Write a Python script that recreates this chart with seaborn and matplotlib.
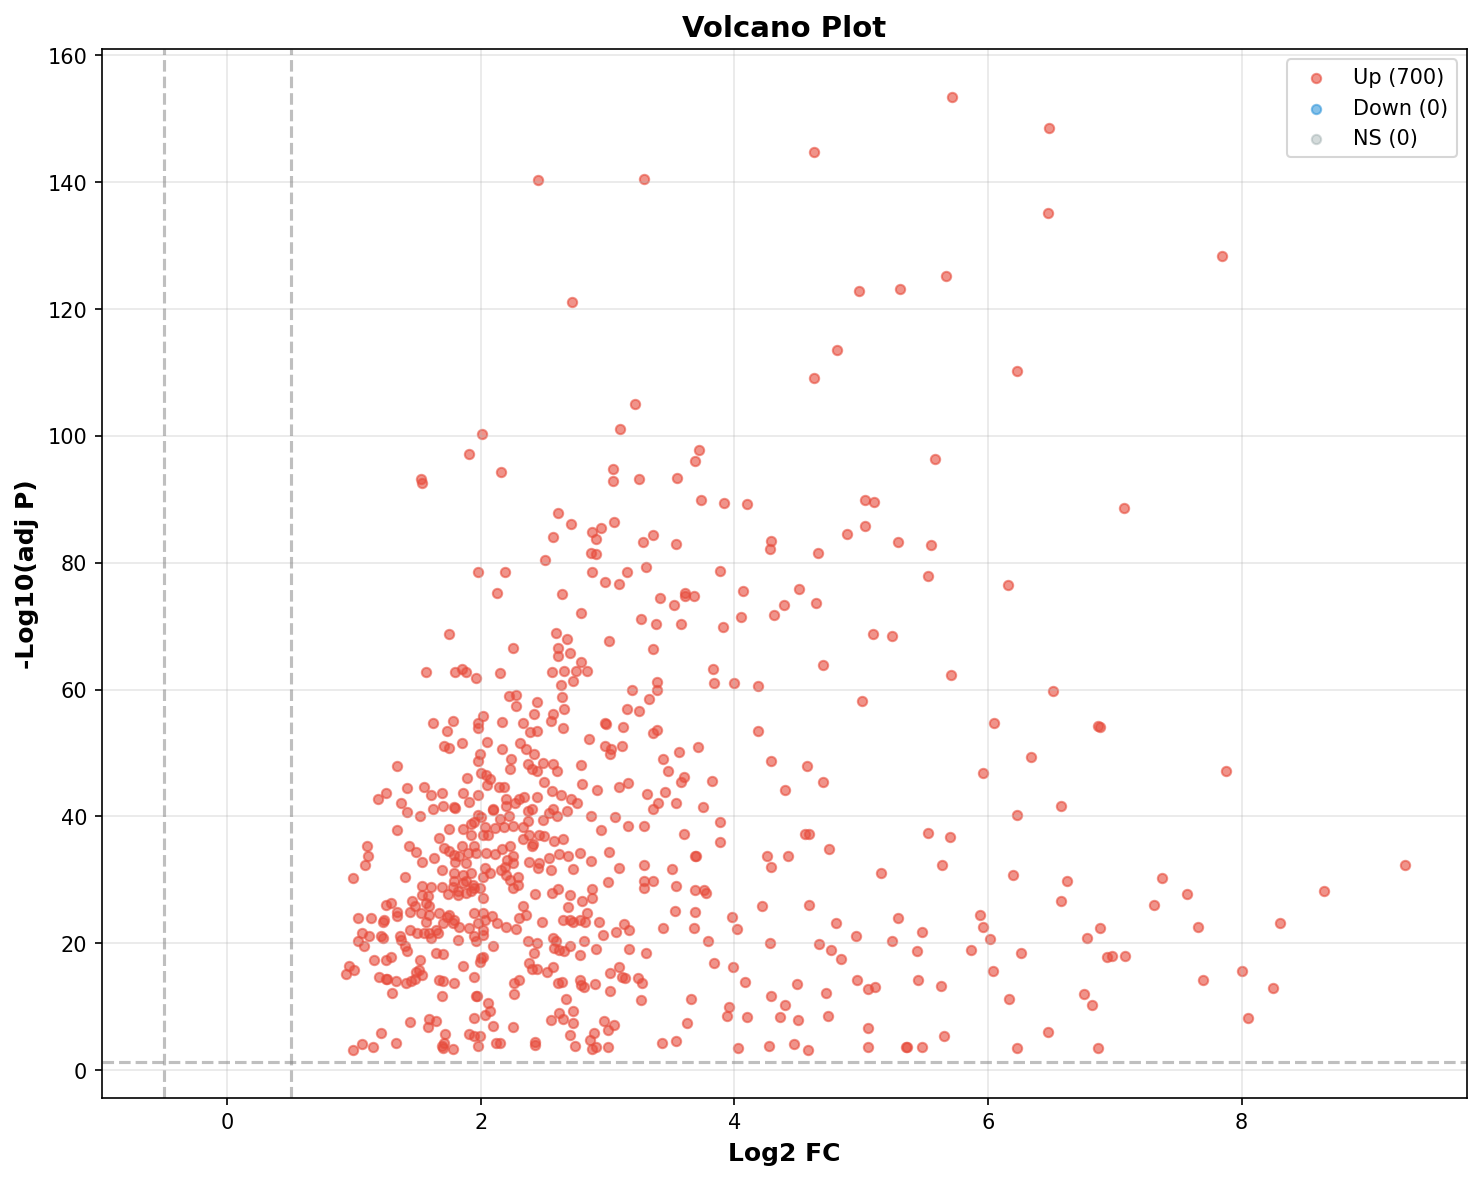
import pandas as pd
import seaborn as sns
import matplotlib.pyplot as plt

# thresholds used for the dashed guide lines
fc_cut = 0.5
padj_line = 1.3

legend_labels = ['Up (700)', 'Down (0)', 'NS (0)']
colors = {'Up': '#e74c3c', 'Down': '#3498db', 'NS': '#95a5a6'}

# (log2 FC, -log10 adj P), by band of -log10 P
up_above_60 = [
    (5.72, 153.5), (6.48, 148.5), (4.63, 144.7), (2.45, 140.3), (3.29, 140.5), (6.47, 135.2),
    (7.85, 128.3), (5.67, 125.2), (4.98, 122.8), (5.31, 123.1), (2.72, 121.1), (4.81, 113.5),
    (6.23, 110.3), (4.63, 109.2), (3.22, 105.1), (3.10, 101.1), (2.01, 100.3), (3.72, 97.8),
    (1.91, 97.1), (3.69, 96.1), (5.58, 96.4), (1.53, 93.2), (1.54, 92.5), (2.16, 94.3),
    (3.04, 94.8), (3.04, 92.9), (3.25, 93.2), (3.55, 93.3), (3.74, 89.9), (3.92, 89.5),
    (4.10, 89.3), (5.03, 89.9), (5.10, 89.6), (7.07, 88.7), (2.61, 87.9), (2.71, 86.1),
    (3.05, 86.4), (5.03, 85.8), (2.95, 85.5), (2.88, 84.9), (2.57, 84.0), (2.91, 83.8),
    (3.36, 84.4), (3.28, 83.2), (3.54, 82.9), (4.29, 83.4), (4.28, 82.1), (4.89, 84.5),
    (5.29, 83.3), (5.55, 82.8), (4.66, 81.5), (2.87, 81.6), (2.91, 81.4), (2.51, 80.5),
    (1.98, 78.5), (2.19, 78.6), (2.88, 78.5), (3.15, 78.5), (3.30, 79.3), (3.89, 78.7),
    (5.53, 77.9), (2.98, 76.9), (3.09, 76.7), (6.16, 76.5), (2.13, 75.3), (2.64, 75.0),
    (3.61, 75.2), (3.61, 74.7), (3.68, 74.7), (3.41, 74.4), (4.07, 75.5), (4.51, 75.9),
    (4.64, 73.7), (4.39, 73.3), (3.52, 73.3), (2.79, 72.1), (4.31, 71.8), (4.05, 71.4),
    (3.26, 71.2), (3.38, 70.3), (3.58, 70.3), (3.91, 69.8), (1.75, 68.8), (2.59, 68.9),
    (5.09, 68.8), (5.24, 68.5), (2.68, 67.9), (3.01, 67.6), (2.61, 66.6), (2.25, 66.5),
    (3.36, 66.4), (2.61, 65.3), (2.70, 65.7), (2.79, 64.4), (4.70, 63.9), (3.83, 63.2),
    (1.85, 63.2), (1.80, 62.7), (1.88, 62.7), (1.57, 62.7), (2.66, 63.0), (2.56, 62.7),
    (2.84, 63.0), (2.75, 62.9), (2.15, 62.6), (1.96, 61.9), (2.73, 61.3), (3.39, 61.2),
    (3.84, 61.1), (4.00, 61.1), (5.71, 62.3), (2.63, 60.8), (4.19, 60.6),
]

up_40_60 = [
    (2.64, 58.9), (2.22, 59.0), (2.28, 59.2), (3.39, 60.0), (3.19, 60.0), (3.33, 58.5),
    (2.28, 57.4), (2.44, 58.0), (2.66, 56.9), (3.15, 57.0), (3.25, 56.6), (5.01, 58.2),
    (6.51, 59.8), (1.62, 54.8), (1.78, 55.1), (1.73, 53.5), (2.02, 55.8), (1.98, 54.7),
    (1.98, 54.0), (2.17, 54.9), (2.33, 54.8), (2.42, 56.2), (2.57, 56.2), (2.55, 55.1),
    (2.65, 54.0), (2.44, 53.5), (2.39, 53.3), (1.85, 51.6), (1.71, 51.1), (1.75, 50.8),
    (2.05, 51.8), (2.17, 50.6), (2.31, 51.6), (2.36, 50.6), (2.42, 49.8), (2.49, 48.5),
    (2.57, 48.2), (2.60, 47.1), (2.37, 48.2), (2.40, 47.4), (2.44, 47.1), (1.99, 49.8),
    (1.98, 48.7), (2.24, 49.1), (2.23, 47.5), (1.34, 48.0), (2.00, 46.9), (2.04, 46.6),
    (2.07, 45.9), (2.05, 45.0), (1.89, 46.1), (2.50, 45.5), (2.14, 44.6), (2.18, 44.7),
    (1.25, 43.7), (1.19, 42.8), (1.42, 44.5), (1.55, 44.7), (1.61, 43.4), (1.69, 43.7),
    (1.86, 43.7), (1.91, 42.3), (1.98, 43.3), (1.37, 42.1), (1.42, 40.7), (1.52, 40.1),
    (1.62, 41.1), (1.70, 41.7), (1.79, 41.5), (1.80, 41.4), (2.20, 42.7), (2.27, 42.1),
    (2.30, 42.7), (2.34, 43.1), (2.44, 43.1), (2.56, 44.0), (2.63, 43.4), (2.71, 42.8),
    (2.76, 42.1), (2.20, 41.7), (2.10, 41.1), (2.10, 41.0), (2.40, 41.2), (2.37, 40.8),
    (2.57, 41.2), (2.54, 40.6), (2.60, 40.0), (2.68, 40.9), (1.98, 40.3), (2.00, 39.9),
    (2.22, 40.1), (2.98, 54.8), (2.99, 54.6), (3.12, 54.1), (2.85, 52.2), (3.36, 53.2),
    (3.39, 53.6), (2.98, 51.1), (3.03, 50.7), (3.02, 49.8), (3.11, 51.1), (3.71, 51.0),
    (3.56, 50.2), (3.44, 49.1), (2.79, 48.1), (3.48, 47.1), (3.60, 46.2), (3.58, 45.4),
    (3.82, 45.6), (2.80, 45.1), (2.92, 44.2), (3.09, 44.7), (3.16, 45.2), (3.31, 43.6),
    (3.45, 43.9), (3.40, 42.1), (3.36, 41.1), (3.54, 42.1), (3.75, 41.5), (2.87, 40.1),
    (3.06, 39.9), (4.19, 53.5), (4.29, 48.7), (4.57, 48.0), (4.40, 44.2), (4.70, 45.5),
    (6.05, 54.7), (6.87, 54.3), (6.88, 54.1), (6.34, 49.4), (5.96, 46.9), (7.88, 47.2),
    (6.58, 41.7), (6.23, 40.2), (3.89, 39.1),
]

up_20_40 = [
    (2.49, 39.5), (2.15, 39.6), (2.18, 38.3), (2.25, 38.5), (2.33, 38.3), (2.37, 39.2),
    (1.75, 38.0), (1.86, 38.0), (1.92, 38.8), (1.95, 39.1), (1.92, 37.1), (2.02, 37.0),
    (2.06, 37.0), (2.03, 38.3), (2.11, 38.2), (1.34, 37.8), (1.67, 36.6), (1.10, 35.4),
    (1.11, 33.8), (1.09, 32.4), (1.43, 35.3), (1.49, 34.4), (1.54, 32.8), (1.63, 33.5),
    (1.69, 31.6), (1.71, 35.0), (1.75, 34.5), (1.79, 33.9), (1.85, 35.4), (1.83, 33.7),
    (1.90, 34.3), (1.95, 35.3), (1.96, 34.2), (1.88, 32.7), (1.80, 32.8), (2.04, 34.2),
    (2.11, 34.1), (2.17, 34.8), (2.23, 35.3), (2.25, 33.7), (2.21, 33.2), (2.25, 32.7),
    (2.19, 32.1), (2.16, 31.6), (2.20, 30.8), (2.23, 30.0), (2.29, 30.5), (2.33, 36.4),
    (2.38, 37.1), (2.41, 35.7), (2.46, 37.0), (2.50, 36.9), (2.58, 36.2), (2.65, 36.4),
    (2.40, 35.3), (2.54, 33.4), (2.62, 34.0), (2.69, 33.7), (2.78, 34.3), (2.46, 32.7),
    (2.38, 32.8), (2.45, 31.9), (2.55, 31.5), (2.73, 31.7), (0.99, 30.3), (1.40, 30.4),
    (1.79, 31.1), (1.86, 30.8), (1.92, 31.1), (1.79, 29.8), (1.88, 29.8), (1.94, 29.2),
    (2.03, 31.9), (2.07, 31.1), (2.02, 30.5), (2.29, 29.2), (1.54, 29.1), (1.61, 28.9),
    (1.69, 28.9), (1.78, 28.9), (1.82, 28.2), (1.86, 29.5), (1.95, 28.7), (1.92, 28.3),
    (1.99, 28.7), (1.54, 27.6), (1.58, 27.4), (1.57, 26.3), (1.59, 25.9), (1.74, 27.8),
    (1.82, 27.6), (1.88, 27.9), (2.02, 27.1), (2.25, 28.7), (2.43, 27.8), (2.56, 27.9),
    (2.61, 28.5), (2.70, 27.6), (1.25, 26.1), (1.29, 26.3), (1.46, 26.6), (1.48, 25.8),
    (1.44, 25.0), (1.34, 25.0), (1.34, 24.3), (1.24, 23.7), (1.23, 23.4), (1.03, 24.0),
    (1.13, 24.0), (1.53, 24.8), (1.59, 24.5), (1.67, 24.8), (1.73, 24.1), (1.79, 23.7),
    (1.78, 23.2), (1.70, 23.2), (1.65, 22.1), (1.59, 21.6), (1.61, 20.8), (1.57, 23.4),
    (1.75, 24.5), (1.50, 21.6), (1.55, 21.6), (1.66, 21.6), (1.44, 22.1), (1.36, 21.1),
    (1.37, 20.5), (1.23, 20.8), (1.21, 21.1), (1.06, 21.6), (1.12, 21.2), (1.82, 20.5),
    (1.83, 22.6), (1.91, 22.4), (1.95, 24.8), (2.02, 24.8), (2.03, 23.7), (1.98, 23.2),
    (2.02, 22.1), (1.95, 21.1), (1.96, 20.3), (2.02, 21.3), (2.09, 24.3), (2.13, 23.2),
    (2.20, 22.6), (2.28, 22.2), (2.30, 24.0), (2.33, 25.9), (2.36, 24.5), (2.48, 23.4),
    (2.37, 20.4), (2.57, 20.8), (2.59, 20.4), (2.69, 25.7), (2.70, 23.7), (2.65, 23.7),
    (2.78, 23.7), (2.73, 23.4), (3.78, 27.9), (2.80, 26.7), (2.88, 27.2), (2.88, 28.6),
    (3.00, 29.7), (3.29, 29.8), (3.36, 29.8), (3.29, 28.7), (3.54, 29.0), (3.69, 28.4),
    (3.76, 28.4), (3.53, 25.1), (3.69, 24.9), (3.98, 24.2), (4.22, 25.8), (4.59, 26.1),
    (2.82, 23.4), (2.84, 24.8), (2.93, 23.4), (3.13, 23.1), (3.17, 22.1), (3.07, 21.8),
    (2.96, 21.3), (3.44, 22.4), (3.68, 22.4), (4.02, 22.2), (3.79, 20.4), (2.81, 20.4),
    (4.28, 20.0), (3.09, 31.9), (3.29, 32.4), (3.51, 31.7), (3.01, 34.4), (2.87, 33.0),
    (3.69, 33.8), (3.70, 33.7), (2.95, 37.9), (3.16, 38.5), (3.29, 38.5), (3.60, 37.2),
    (3.89, 36.0), (4.26, 33.7), (4.29, 32.1), (4.42, 33.8), (4.56, 37.2), (4.59, 37.2),
    (4.75, 34.8), (5.53, 37.4), (5.70, 36.8), (5.64, 32.3), (5.16, 31.0), (6.20, 30.8),
    (6.62, 29.8), (6.58, 26.7), (5.29, 24.0), (5.94, 24.5), (5.96, 22.5), (6.02, 20.6),
    (4.80, 23.2), (4.96, 21.1), (5.24, 20.4), (5.48, 21.8), (4.67, 19.9), (6.78, 20.9),
    (6.88, 22.4), (9.29, 32.3), (7.37, 30.3), (7.57, 27.8), (7.31, 26.0), (8.65, 28.2),
    (7.66, 22.5), (8.30, 23.2),
]

up_below_20 = [
    (2.70, 19.6), (2.62, 19.0), (2.58, 19.2), (2.66, 18.7), (2.78, 18.2), (2.44, 20.0),
    (2.42, 18.5), (2.10, 19.6), (1.65, 18.4), (1.70, 18.3), (1.52, 17.4), (0.96, 16.4),
    (0.94, 15.2), (1.00, 15.8), (1.16, 17.4), (1.25, 17.3), (1.29, 17.8), (1.86, 16.4),
    (2.00, 17.6), (2.02, 17.9), (1.99, 17.1), (2.38, 16.9), (2.40, 15.9), (2.44, 15.9),
    (2.57, 16.2), (2.52, 15.5), (1.20, 14.6), (1.25, 14.3), (1.26, 14.3), (1.33, 14.0),
    (1.41, 13.7), (1.45, 14.0), (1.49, 15.5), (1.51, 15.8), (1.54, 15.0), (1.48, 14.3),
    (1.67, 14.2), (1.70, 14.1), (1.79, 13.7), (1.95, 14.6), (1.30, 12.1), (1.69, 11.7),
    (1.96, 11.7), (1.97, 11.6), (2.26, 13.7), (2.30, 14.2), (2.26, 12.0), (2.61, 13.8),
    (2.64, 13.9), (2.67, 11.2), (2.06, 10.5), (2.07, 9.3), (2.03, 8.7), (1.95, 8.2),
    (1.44, 7.5), (1.59, 8.0), (1.65, 7.8), (1.58, 6.8), (2.10, 7.0), (2.25, 6.8),
    (2.55, 7.9), (2.62, 9.0), (2.65, 8.0), (1.21, 5.8), (1.91, 5.7), (1.95, 5.3),
    (1.99, 5.4), (1.72, 5.7), (1.71, 4.3), (1.69, 3.8), (1.70, 3.4), (1.78, 3.3),
    (1.33, 4.2), (0.99, 3.1), (1.06, 4.1), (1.15, 3.7), (1.98, 3.8), (2.12, 4.3),
    (2.15, 4.3), (2.43, 4.4), (2.43, 4.0), (1.03, 20.3), (1.08, 19.5), (1.40, 19.5),
    (1.42, 18.7), (2.91, 19.1), (3.17, 19.1), (3.30, 18.4), (3.84, 16.9), (3.99, 16.3),
    (3.09, 16.2), (3.02, 15.3), (3.11, 14.6), (3.14, 14.5), (3.24, 14.5), (3.27, 13.7),
    (2.78, 14.2), (2.79, 13.4), (2.81, 13.1), (2.90, 13.6), (3.02, 12.5), (3.26, 11.1),
    (3.66, 11.2), (4.08, 13.9), (4.29, 11.7), (4.49, 13.6), (4.40, 10.3), (2.73, 9.3),
    (2.73, 7.4), (2.70, 5.5), (2.97, 7.7), (3.05, 7.1), (3.00, 6.3), (2.89, 5.9),
    (2.86, 4.7), (2.88, 3.3), (2.91, 3.7), (2.74, 3.8), (3.00, 3.7), (3.63, 7.4),
    (3.43, 4.2), (3.54, 4.6), (3.96, 9.9), (3.94, 8.5), (4.10, 8.3), (4.03, 3.5),
    (4.27, 3.8), (4.36, 8.4), (4.50, 7.9), (4.47, 4.1), (4.58, 3.2), (4.76, 19.0),
    (4.84, 17.5), (5.44, 18.8), (5.87, 19.0), (6.26, 18.4), (6.94, 17.9), (6.98, 18.0),
    (7.08, 18.0), (6.04, 15.6), (4.72, 12.1), (4.97, 14.2), (5.05, 12.8), (5.11, 13.1),
    (5.45, 14.2), (5.63, 13.3), (6.17, 11.2), (6.76, 12.0), (6.82, 10.3), (4.74, 8.5),
    (5.05, 6.7), (5.65, 5.4), (6.47, 6.0), (5.05, 3.6), (5.35, 3.6), (5.36, 3.6),
    (5.48, 3.6), (6.23, 3.4), (6.87, 3.4), (8.00, 15.6), (7.70, 14.2), (8.25, 13.0),
    (8.05, 8.2),
]

df = pd.DataFrame(up_above_60 + up_40_60 + up_20_40 + up_below_20,
                  columns=['log2fc', 'neg_log10_padj'])

fig, ax = plt.subplots(figsize=(10, 8))

sns.scatterplot(data=df, x='log2fc', y='neg_log10_padj', color=colors['Up'],
                alpha=0.6, s=20, edgecolor=colors['Up'], linewidth=1.0,
                label=legend_labels[0], ax=ax)
# no down-regulated or non-significant genes, but keep them in the legend
ax.scatter([], [], color=colors['Down'], alpha=0.6, s=20, label=legend_labels[1])
ax.scatter([], [], color=colors['NS'], alpha=0.4, s=20, label=legend_labels[2])

ax.axvline(-fc_cut, color='gray', linestyle='--', alpha=0.5, linewidth=1.5)
ax.axvline(fc_cut, color='gray', linestyle='--', alpha=0.5, linewidth=1.5)
ylim = ax.get_ylim()
ax.axhline(padj_line, color='gray', linestyle='--', alpha=0.5, linewidth=1.5)
ax.set_ylim(ylim)

ax.set_xlabel('Log2 FC', fontsize=12, fontweight='bold')
ax.set_ylabel('-Log10(adj P)', fontsize=12, fontweight='bold')
ax.set_title('Volcano Plot', fontsize=14, fontweight='bold')
ax.grid(True, alpha=0.3)
ax.legend(loc='upper right')

plt.tight_layout()
plt.savefig('out.png', dpi=150, bbox_inches='tight')
